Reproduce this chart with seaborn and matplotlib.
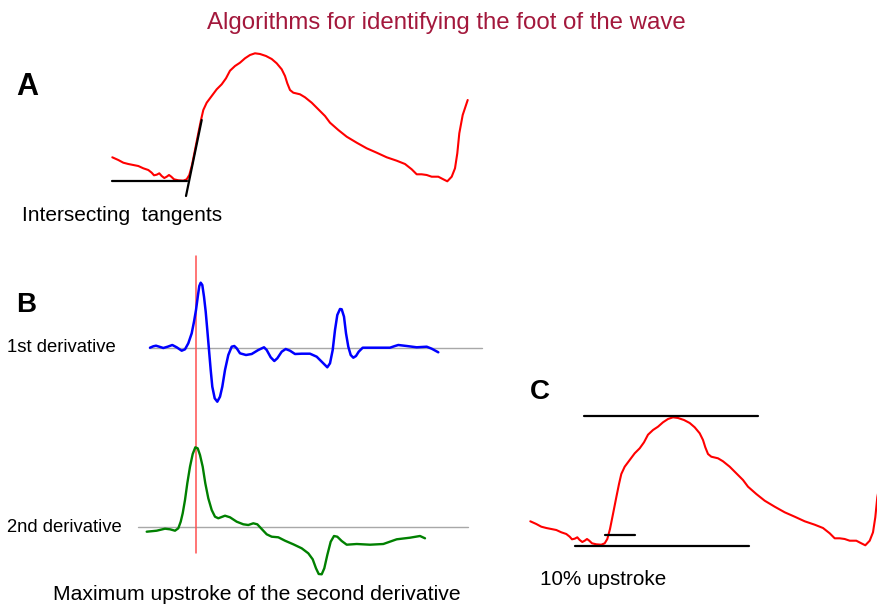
import numpy as np
import pandas as pd
import matplotlib
matplotlib.use("Agg")
import matplotlib.pyplot as plt
import seaborn as sns

# ---------------- data ----------------
# pressure wave: time (samples) and pressure (arbitrary units above foot)
wave_t = [0.3, 6.3, 11.3, 16.3, 21.3, 26.3, 31.3, 36.3, 39.7, 42, 44.7, 47.3, 49.7,
          52.3, 54.7, 57, 59.3, 62, 66.3, 71.3, 74.7, 77.3, 80, 83, 86.3, 89, 91.3,
          94.7, 99.7, 104.7, 109.7, 114, 118, 123, 128, 133, 138, 143, 148, 154,
          159.7, 164.7, 169.7, 173, 175.3, 178, 181.3, 188, 193, 199.7, 206.3, 213,
          218, 226.3, 234.7, 244.7, 254.7, 264.7, 274.7, 284.7, 293, 299.7, 304.7,
          309.7, 314.7, 319.7, 326.3, 331.3, 335.3, 339.7, 343, 345.3, 347.3, 350.7,
          355.7]
wave_p = [23.7, 21, 18.3, 17, 16, 15, 12.7, 11, 8.3, 5.7, 6.3, 7.7, 5,
          3, 4.3, 6, 4.3, 1.7, 0.7, 0.3, 1.7, 6, 16, 31, 47.7, 61, 71,
          78.3, 85, 91.7, 96.7, 102.7, 110.3, 115, 118.3, 122.7, 126, 127.7, 127, 125,
          122, 117.7, 111.7, 105, 97.7, 91, 88.3, 86.7, 83.7, 78.3, 71.7, 65,
          58.3, 51, 44.3, 38.3, 32.7, 28.3, 23.7, 20.3, 17, 11.7, 6.7,
          6.7, 6, 4.3, 4.3, 1.7, -0.3, 4.3, 12.7, 27.7, 47.7, 66,
          81]

# first derivative
d1_t = [0, 3.3, 6, 9.3, 13.3, 17.7, 22.3, 26.7, 31.7, 35, 38.3, 41.7, 44, 46, 48,
        49.3, 50.7, 52.3, 54, 55.7, 57.3, 59, 60.7, 62.3, 64.7, 67.3, 70, 72.3, 75,
        78.3, 81.7, 84.3, 86.7, 90, 96, 101.7, 108.3, 114, 116.7, 120.7, 124.3,
        127.3, 131.7, 135.7, 140, 145, 151.7, 160, 166.7, 171.7, 177.3, 180, 182.7,
        185, 187.3, 190, 191.7, 194, 196, 198.3, 200.7, 203.3, 206, 208.7, 212.7,
        240, 245, 248.3, 256.7, 266.7, 276.7, 281.7, 288.3]
d1_v = [0.3, 1.7, 2.3, 1.3, 0, 1.3, 3, 0.7, -2.7, -1.3, 4.7, 14.7, 26.3, 38, 53,
        62, 65.3, 63, 51.3, 36.3, 18, -2, -22, -38.7, -50.3, -53.7, -48.7, -38.7, -22,
        -7, 1.3, 2, -0.3, -5.3, -7, -6, -2, 0.7, -2, -9.3, -13,
        -10.3, -3.7, -1, -2.7, -6, -5.7, -5.7, -8.7, -13.7, -19.3, -15.3, -2,
        18, 33, 39, 38.7, 31.3, 14.7, 1.3, -7, -9.7, -8, -3.7, 0.3,
        0.3, 2, 3, 2, 0.7, 1.3, -0.7, -4.3]

# second derivative
d2_t = [-3.3, 6.7, 15, 20, 25, 28.3, 30.7, 32.7, 35, 37.3, 40, 42.7, 45.3, 47.7, 50,
        52.7, 55.3, 58.3, 61.7, 65, 68.3, 75, 80, 86.7, 93.3, 98.3, 103.3, 107.3,
        111.7, 116.7, 121.7, 128.3, 135, 143.3, 151.7, 158.3, 162.7, 166, 168.7,
        171.7, 174.3, 177.3, 180.7, 184, 187.3, 191.7, 196.7, 206.7, 220, 233.3,
        246.7, 260, 270, 275]
d2_v = [-4.7, -3.7, -1.7, -2.3, -3.7, -1.3, 5.3, 13.7, 27, 43.7, 60.3, 73, 79.7, 78.7, 72,
        60.3, 43.7, 28.7, 17, 10.3, 8.7, 11.3, 9.7, 5.3, 2.7, 2, 3.7, 2.7,
        -2, -7.3, -9.7, -10.3, -13.7, -17.3, -21.3, -26.3, -32.3, -41.3, -47,
        -47.3, -41.3, -28, -14.7, -9, -9.7, -14, -17.7, -17, -17.7, -17,
        -12.3, -10.7, -9, -11.3]

# marker lines (panel units)
tangent_base = {"t": [0, 75], "p": [0, 0]}
tangent_up = {"t": [74, 89.7], "p": [-15, 61]}
c_top = {"t": [54, 228.3], "p": [129, 129]}
c_bottom = {"t": [45, 218.7], "p": [-1, -1]}
c_ten = {"t": [75, 105], "p": [10, 10]}
foot_time = 46

title = "Algorithms for identifying the foot of the wave"
labels = {"A": "Intersecting  tangents", "B1": "1st derivative",
          "B2": "2nd derivative", "B": "Maximum upstroke of the second derivative",
          "C": "10% upstroke"}

# ---------------- layout ----------------
W, H = 878, 607
A_org = (112, 181)
C_org = (530, 545)
D1_org = (150, 348)
D2_org = (150, 527)

sns.set_style("white")
plt.rcParams['font.family'] = ['Liberation Sans', 'DejaVu Sans']

fig = plt.figure(figsize=(W / 100, H / 100), dpi=100)
ax = fig.add_axes([0, 0, 1, 1])
ax.set_xlim(0, W)
ax.set_ylim(H, 0)
ax.axis("off")


def place(org, t, v):
    return pd.DataFrame({"x": org[0] + np.asarray(t, float),
                         "y": org[1] - np.asarray(v, float)})


def line(org, t, v, color, lw):
    df = place(org, t, v)
    sns.lineplot(data=df, x="x", y="y", sort=False, estimator=None,
                 color=color, linewidth=lw, ax=ax)


red = "#ff0000"
# baselines for derivatives
line(D1_org, [-1, 332], [0, 0], "#a8a8a8", 1.0)
line(D2_org, [-12, 318], [0, 0], "#a8a8a8", 1.0)
# red vertical marker
ax.plot([D1_org[0] + foot_time] * 2, [256, 553], color="#ff5050", lw=1.1)

# Panel A
line(A_org, wave_t, wave_p, red, 1.5)
line(A_org, tangent_base["t"], tangent_base["p"], "black", 1.6)
line(A_org, tangent_up["t"], tangent_up["p"], "black", 1.6)

# Panel B
line(D1_org, d1_t, d1_v, "#0000ff", 1.8)
line(D2_org, d2_t, d2_v, "#008000", 1.7)

# Panel C
line(C_org, wave_t, wave_p, red, 1.5)
for seg in (c_top, c_bottom, c_ten):
    line(C_org, seg["t"], seg["p"], "black", 1.6)

# texts
ax.text(446.5, 28.5, title, color="#a3183c", fontsize=17.3, ha="center", va="baseline")
ax.text(16, 95, "A", fontsize=22, fontweight="bold", ha="left", va="baseline", color="black")
ax.text(16, 311.7, "B", fontsize=20, fontweight="bold", ha="left", va="baseline", color="black")
ax.text(530, 399, "C", fontsize=20, fontweight="bold", ha="left", va="baseline", color="black")
ax.text(22, 221, labels["A"], fontsize=15, ha="left", va="baseline", color="black")
ax.text(7, 352.3, labels["B1"], fontsize=13.3, ha="left", va="baseline", color="black")
ax.text(7, 532.3, labels["B2"], fontsize=13.3, ha="left", va="baseline", color="black")
ax.text(53, 600, labels["B"], fontsize=15.2, ha="left", va="baseline", color="black")
ax.text(540, 585, labels["C"], fontsize=14.9, ha="left", va="baseline", color="black")

fig.savefig("out.png", dpi=100)
